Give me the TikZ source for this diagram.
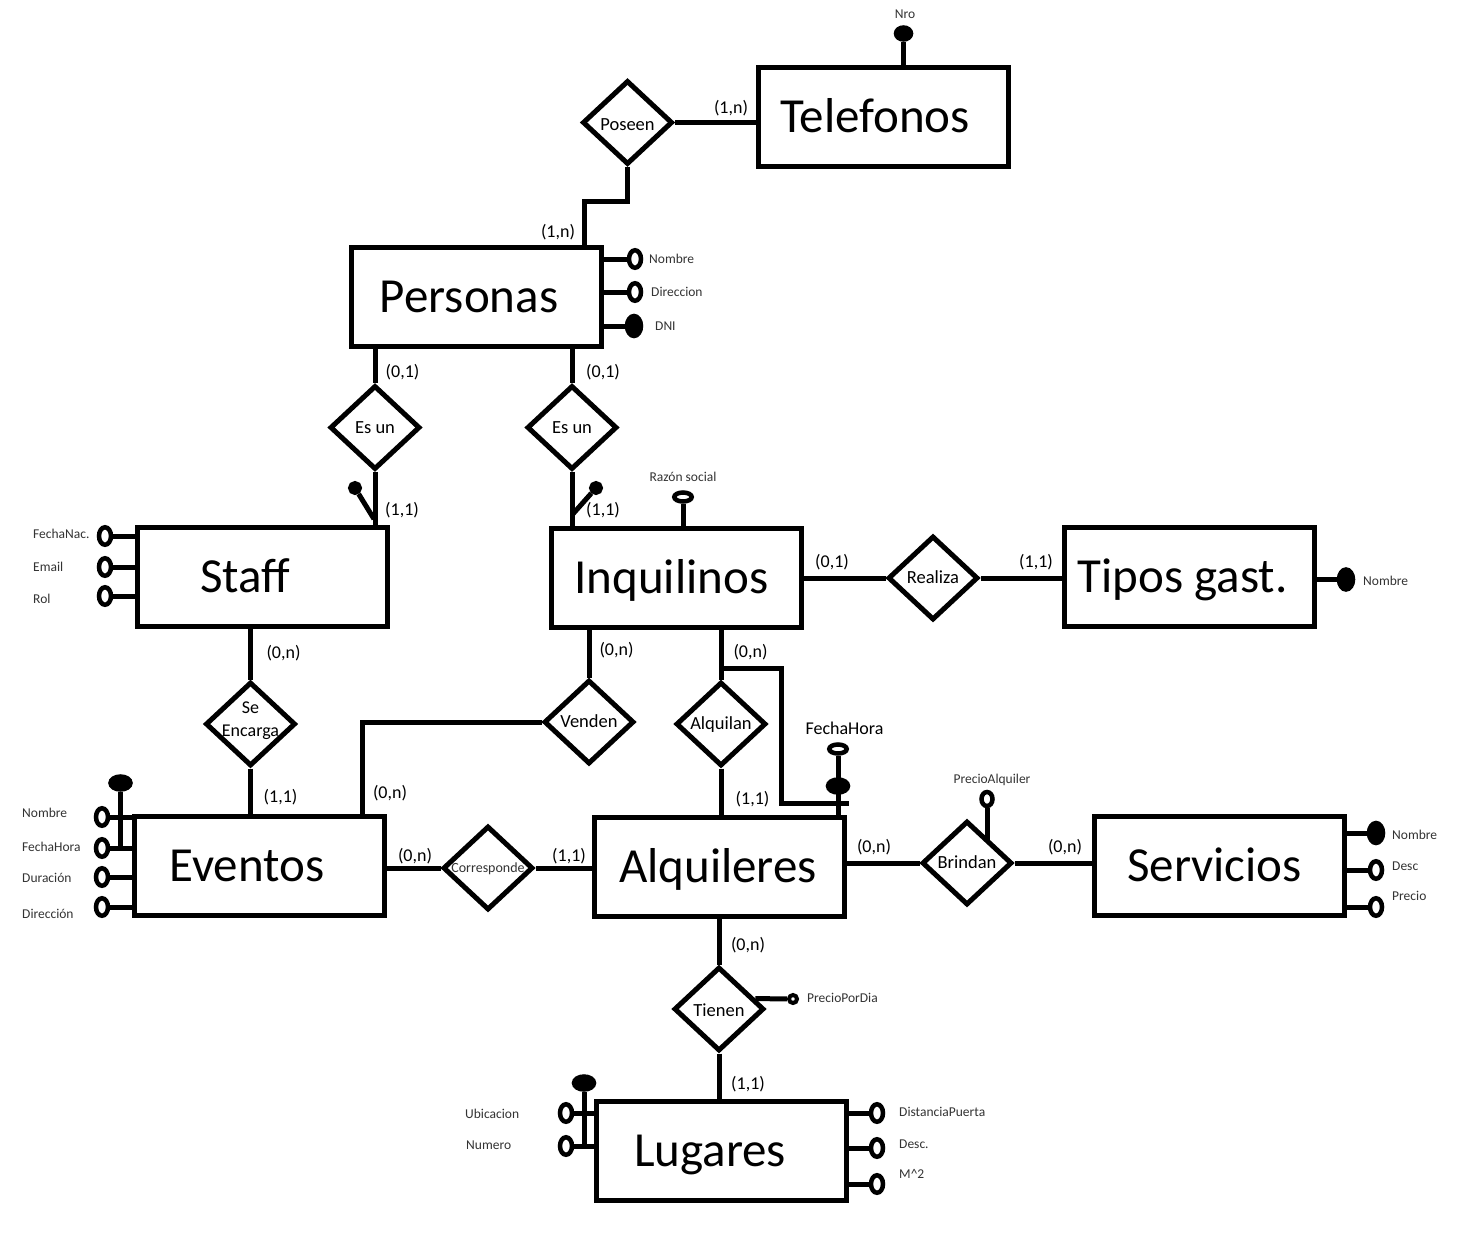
\documentclass[tikz,border=0pt]{standalone}
\usepackage{fontspec}
\setmainfont{Carlito}
\usetikzlibrary{shapes.geometric}
\tikzset{
  conn/.style={line width=5pt},
  entity/.style={draw, line width=5pt, rectangle, minimum width=250pt, minimum height=99pt, inner sep=0pt},
  enttext/.style={font=\fontsize{49}{49}\selectfont, text height=31.6pt, text depth=0pt, inner sep=0pt},
  rel/.style={draw, line width=5pt, diamond, minimum width=90pt, minimum height=84pt, inner sep=0pt, fill=white},
  reltext/.style={font=\fontsize{18.5}{18.5}\selectfont, text height=11.9pt, text depth=0pt, inner sep=0pt},
  card/.style={font=\fontsize{18}{18}\selectfont, text height=11.6pt, text depth=0pt, inner sep=0pt},
  small/.style={font=\fontsize{13.5}{13.5}\selectfont, text height=8.7pt, text depth=0pt, inner sep=0pt, text=black!80},
  oattr/.style={ellipse, draw, line width=4.5pt, fill=white, minimum width=12pt, minimum height=17.5pt, inner sep=0pt},
  kattr/.style={ellipse, draw, line width=4.5pt, fill=black, minimum width=14pt, minimum height=20pt, inner sep=0pt},
  ohattr/.style={ellipse, draw, line width=4.5pt, fill=white, minimum width=17.5pt, minimum height=9pt, inner sep=0pt},
  khattr/.style={ellipse, draw, line width=4.5pt, fill=black, minimum width=20pt, minimum height=13pt, inner sep=0pt},
  kdot/.style={circle, draw, line width=4pt, fill=black, minimum size=10pt, inner sep=0pt},
  odot/.style={circle, draw, line width=4pt, fill=white, minimum size=8pt, inner sep=0pt},
}
\begin{document}
\begin{tikzpicture}[x=1pt, y=-1pt]
\fill[white] (0,0) rectangle (1470,1256);
\useasboundingbox (0,0) rectangle (1470,1256);

% ---------- entities ----------
\node[entity, label={[enttext, xshift=-8pt]center:Telefonos}] (telef) at (883,116.5) {};
\node[entity, label={[enttext, xshift=-7.5pt]center:Personas}] (pers) at (476.5,297) {};
\node[entity, label={[enttext, xshift=-17pt]center:Staff}] (staff) at (262.5,577) {};
\node[entity, label={[enttext, xshift=-5pt]center:Inquilinos}] (inq) at (676.5,577.5) {};
\node[entity, label={[enttext, xshift=-6.5pt]center:Tipos gast.}] (tipos) at (1189,576.5) {};
\node[entity, label={[enttext, xshift=-12.5pt]center:Eventos}] (evt) at (259.5,865.5) {};
\node[entity, label={[enttext, xshift=-1pt]center:Alquileres}] (alqs) at (719,867) {};
\node[entity, label={[enttext, xshift=-4.5pt]center:Servicios}] (serv) at (1219,865.5) {};
\node[entity, label={[enttext, xshift=-11pt]center:Lugares}] (lug) at (721,1150.5) {};

% ---------- relationships ----------
\node[rel, label={[reltext, yshift=-2pt]center:Poseen}] (poseen) at (627.5,122.5) {};
\node[rel, label={[reltext]center:Es un}] (esun1) at (375,427.5) {};
\node[rel, label={[reltext]center:Es un}] (esun2) at (572,427.5) {};
\node[rel, label={[reltext]center:Realiza}] (realiza) at (933,578) {};
\node[rel, label={[font=\fontsize{18}{23}\selectfont, align=center, inner sep=0pt, yshift=3pt]center:Se\\Encarga}] (seenc) at (250.5,724) {};
\node[rel, label={[reltext]center:Venden}] (venden) at (589,722) {};
\node[rel, label={[reltext]center:Alquilan}] (alq) at (721,724) {};
\node[rel, label={[font=\fontsize{14}{14}\selectfont, text height=9pt, text depth=0pt, inner sep=0pt, text=black!80]center:Corresponde}] (corr) at (488,868) {};
\node[rel, label={[reltext]center:Brindan}] (brindan) at (967,863) {};
\node[rel, label={[reltext, yshift=-2pt]center:Tienen}] (tienen) at (719,1009) {};

% ---------- relationship connectors ----------
\draw[conn] (poseen.east) -- (poseen.east -| telef.west);
\coordinate (b1) at (584,201);
\draw[conn] (poseen.south) |- (b1) -- (b1 |- pers.north);
\draw[conn] (esun1.north |- pers.south) -- (esun1.north);
\draw[conn] (esun2.north |- pers.south) -- (esun2.north);
\draw[conn] (esun1.south) -- (esun1.south |- staff.north);
\draw[conn] (esun2.south) -- (esun2.south |- inq.north);
\draw[conn] (realiza.west -| inq.east) -- (realiza.west);
\draw[conn] (realiza.east) -- (realiza.east -| tipos.west);
\draw[conn] (seenc.north |- staff.south) -- (seenc.north);
\draw[conn] (seenc.south) -- (seenc.south |- evt.north);
\draw[conn] (venden.north |- inq.south) -- (venden.north);
\coordinate (v1) at (362,722);
\draw[conn] (venden.west) -- (v1) -- (v1 |- evt.north);
\draw[conn] (alq.north |- inq.south) -- (alq.north);
\coordinate (f1) at (721,668);
\coordinate (f2) at (781,803);
\coordinate (f3) at (849,803);
\draw[conn] (f1) -| (f2) -- (f3);
\draw[conn] (alq.south) -- (alq.south |- alqs.north);
\draw[conn] (evt.east |- corr) -- (corr.west);
\draw[conn] (corr.east) -- (corr.east -| alqs.west);
\draw[conn] (brindan.west -| alqs.east) -- (brindan.west);
\draw[conn] (brindan.east) -- (brindan.east -| serv.west);
\draw[conn] (tienen.north |- alqs.south) -- (tienen.north);
\draw[conn] (tienen.south) -- (tienen.south |- lug.north);

% ---------- attributes ----------
% Telefonos
\node[khattr, minimum width=15pt, minimum height=12pt] (nro) at (903.5,33.5) {};
\draw[conn] (nro) -- (nro |- telef.north);
\node[small] (tnro) at (905,14) {Nro};

% Personas
\node[oattr] (pnom) at (635,259) {};
\node[oattr] (pdir) at (635,292) {};
\node[kattr] (pdni) at (634,326) {};
\draw[conn] (pnom -| pers.east) -- (pnom.west);
\draw[conn] (pdir -| pers.east) -- (pdir.west);
\draw[conn] (pdni -| pers.east) -- (pdni.west);
\node[small, anchor=west] (tpnom) at (649,259) {Nombre};
\node[small, anchor=west] (tpdir) at (651,292) {Direccion};
\node[small, anchor=west] (tpdni) at (655,326) {DNI};

% Es un lollipops
\coordinate (lp1) at (374,519);
\node[kdot] (sk1) at (355,488) {};
\draw[conn] (lp1) -- (sk1);
\coordinate (lp2) at (572,515);
\node[kdot] (sk2) at (596,488) {};
\draw[conn] (lp2) -- (sk2);

% Inquilinos
\node[ohattr] (razon) at (683,497) {};
\draw[conn] (razon) -- (razon |- inq.north);
\node[small] (trazon) at (683,477) {Razón social};

% Staff
\node[oattr] (sf1) at (105,536) {};
\node[oattr] (sf2) at (105,567) {};
\node[oattr] (sf3) at (105,596) {};
\draw[conn] (sf1.east) -- (sf1 -| staff.west);
\draw[conn] (sf2.east) -- (sf2 -| staff.west);
\draw[conn] (sf3.east) -- (sf3 -| staff.west);
\node[small, anchor=west] (tsf1) at (33,534) {FechaNac.};
\node[small, anchor=west] (tsf2) at (33,567) {Email};
\node[small, anchor=west] (tsf3) at (33,599) {Rol};

% Tipos gast.
\node[kattr] (tn) at (1346,579.5) {};
\draw[conn] (tn -| tipos.east) -- (tn);
\node[small, anchor=west] (ttn) at (1363,581) {Nombre};

% Eventos
\node[oattr] (ev1) at (102,817) {};
\node[oattr] (ev2) at (102,848) {};
\node[oattr] (ev3) at (102,877) {};
\node[oattr] (ev4) at (102,907) {};
\draw[conn] (ev1.east) -- (ev1 -| evt.west);
\draw[conn] (ev2.east) -- (ev2 -| evt.west);
\draw[conn] (ev3.east) -- (ev3 -| evt.west);
\draw[conn] (ev4.east) -- (ev4 -| evt.west);
\node[khattr] (evk) at (120.5,783) {};
\draw[conn] (evk) -- (evk |- ev2);
\node[small, anchor=west] (tev1) at (22,813) {Nombre};
\node[small, anchor=west] (tev2) at (22,847) {FechaHora};
\node[small, anchor=west] (tev3) at (22,878) {Duración};
\node[small, anchor=west] (tev4) at (22,914) {Dirección};

% Alquileres FechaHora
\node[ohattr] (fh1) at (838,749) {};
\draw[conn] (fh1) -- (fh1 |- alqs.north);
\node[khattr] (fh2) at (838,786) {};
\node[card] (tfh) at (844.5,729) {FechaHora};

% Brindan PrecioAlquiler
\node[oattr, minimum width=11pt, minimum height=14pt] (pa) at (987,799) {};
\draw[conn] (pa) -- (pa |- brindan.north east);
\node[small] (tpa) at (992,779) {PrecioAlquiler};

% Servicios
\node[kattr] (sv1) at (1376,833) {};
\node[oattr] (sv2) at (1376,870) {};
\node[oattr] (sv3) at (1376,907) {};
\draw[conn] (sv1 -| serv.east) -- (sv1.west);
\draw[conn] (sv2 -| serv.east) -- (sv2.west);
\draw[conn] (sv3 -| serv.east) -- (sv3.west);
\node[small, anchor=west] (tsv1) at (1392,835) {Nombre};
\node[small, anchor=west] (tsv2) at (1392,866) {Desc};
\node[small, anchor=west] (tsv3) at (1392,896) {Precio};

% Tienen PrecioPorDia
\node[odot] (ppd) at (793,999) {};
\draw[conn] (ppd) -- (tienen.16);
\node[small, anchor=west] (tppd) at (807,998) {PrecioPorDia};

% Lugares
\node[oattr] (lg1) at (566,1113) {};
\node[oattr] (lg2) at (566,1146) {};
\draw[conn] (lg1.east) -- (lg1 -| lug.west);
\draw[conn] (lg2.east) -- (lg2 -| lug.west);
\node[khattr] (lgk) at (584,1083) {};
\draw[conn] (lgk) -- (lgk |- lg2);
\node[small, anchor=west] (tlg1) at (465,1114) {Ubicacion};
\node[small, anchor=west] (tlg2) at (466,1145) {Numero};
\node[oattr] (lr1) at (877,1113) {};
\node[oattr] (lr2) at (877,1148) {};
\node[oattr] (lr3) at (877,1184) {};
\draw[conn] (lr1 -| lug.east) -- (lr1.west);
\draw[conn] (lr2 -| lug.east) -- (lr2.west);
\draw[conn] (lr3 -| lug.east) -- (lr3.west);
\node[small, anchor=west] (tlr1) at (899,1112) {DistanciaPuerta};
\node[small, anchor=west] (tlr2) at (899,1144) {Desc.};
\node[small, anchor=west] (tlr3) at (899,1174) {M\textasciicircum2};

% ---------- cardinalities ----------
\node[card] (k1) at (731,108) {(1,n)};
\node[card] (k2) at (558,232) {(1,n)};
\node[card] (k3) at (402.5,372) {(0,1)};
\node[card] (k4) at (603,372) {(0,1)};
\node[card] (k5) at (402,510) {(1,1)};
\node[card] (k6) at (603,510) {(1,1)};
\node[card] (k7) at (832,562) {(0,1)};
\node[card] (k8) at (1036,562) {(1,1)};
\node[card] (k9) at (283.5,653) {(0,n)};
\node[card] (k10) at (280.5,797) {(1,1)};
\node[card] (k11) at (616.5,650) {(0,n)};
\node[card] (k12) at (390,793) {(0,n)};
\node[card] (k13) at (750.5,652) {(0,n)};
\node[card] (k14) at (752.5,799) {(1,1)};
\node[card] (k15) at (415,856) {(0,n)};
\node[card] (k16) at (569,856) {(1,1)};
\node[card] (k17) at (874,847) {(0,n)};
\node[card] (k18) at (1065,847) {(0,n)};
\node[card] (k19) at (748,945) {(0,n)};
\node[card] (k20) at (748,1084) {(1,1)};
\end{tikzpicture}
\end{document}
